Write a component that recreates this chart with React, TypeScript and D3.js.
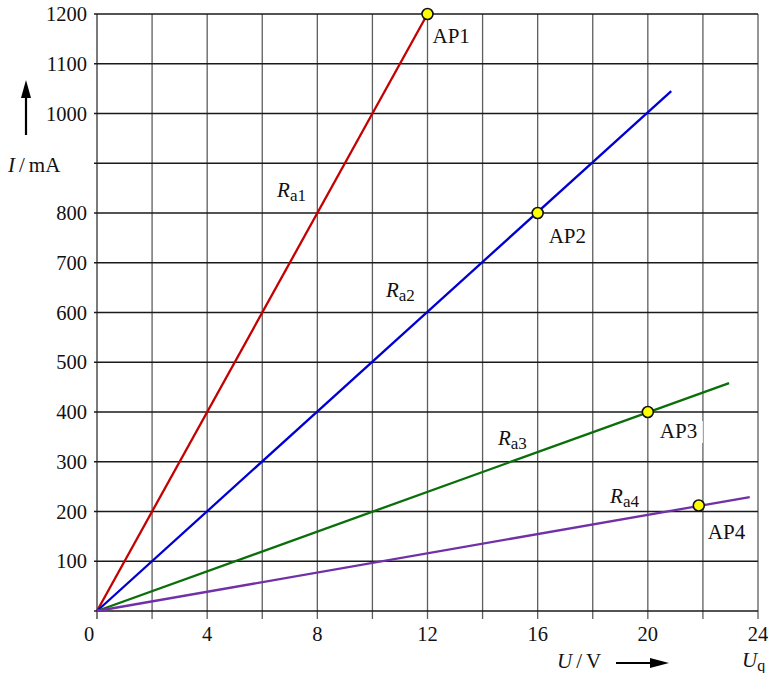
import React from "react";
import * as d3 from "d3";

const W = 768;
const H = 673;

// axis ticks
const xTickValues = [0, 4, 8, 12, 16, 20, 24];
const xGridValues = [0, 2, 4, 6, 8, 10, 12, 14, 16, 18, 20, 22, 24];
const yTickLabels = [100, 200, 300, 400, 500, 600, 700, 800, 1000, 1100, 1200];
const yGridValues = [0, 100, 200, 300, 400, 500, 600, 700, 800, 900, 1000, 1100, 1200];

// load lines (start at origin)
const lineSubs = ["a1", "a2", "a3", "a4"];
const lineEndU = [12, 20.85, 22.95, 23.7];
const lineEndI = [1200, 1045, 458, 229];
const lineColors = ["#c40000", "#0000d0", "#0a6e0a", "#7030a8"];
const lineLabelU = [6.54, 10.49, 14.56, 18.63];
const lineLabelI = [832, 631, 334, 218];

// operating points
const apNames = ["AP1", "AP2", "AP3", "AP4"];
const apU = [12, 16, 20, 21.85];
const apI = [1200, 800, 400, 212];
const apLabelDx = [5, 11, 12, 9];
const apLabelDy = [29, 30, 26, 33];

const FONT = "Liberation Serif, Times New Roman, Times, serif";

export default function App() {
  const x = d3.scaleLinear().domain([0, 24]).range([97, 758]);
  const y = d3.scaleLinear().domain([0, 1200]).range([611, 14]);
  const line = d3
    .line<[number, number]>()
    .x((d) => x(d[0]))
    .y((d) => y(d[1]));

  const fs = 20.5;
  const tStyle = { fontFamily: FONT };

  return (
    <svg
      width={W}
      height={H}
      style={{ position: "absolute", left: 0, top: 0, background: "#fff", fontFamily: FONT }}
    >
      <rect x={0} y={0} width={W} height={H} fill="#fff" />
      {/* vertical grid */}
      {xGridValues.map((v) => (
        <line
          key={"vx" + v}
          x1={x(v)}
          x2={x(v)}
          y1={y(1200)}
          y2={y(0) + 8}
          stroke={v === 0 ? "#333" : "#5e5e5e"}
          strokeWidth={1.3}
        />
      ))}
      {/* horizontal grid */}
      {yGridValues.map((v) => (
        <line
          key={"hy" + v}
          x1={x(0) - 3}
          x2={x(24)}
          y1={y(v)}
          y2={y(v)}
          stroke="#1a1a1a"
          strokeWidth={1.3}
        />
      ))}
      {/* y tick labels */}
      {yTickLabels.map((v) => (
        <text
          key={"yl" + v}
          x={87}
          y={y(v) + 7}
          fontSize={fs}
          textAnchor="end"
          fill="#111"
          style={tStyle}
        >
          {v}
        </text>
      ))}
      {/* x tick labels */}
      {xTickValues.map((v) => (
        <text
          key={"xl" + v}
          x={v === 0 ? x(0) - 8 : x(v)}
          y={641}
          fontSize={fs}
          textAnchor="middle"
          fill="#111"
          style={tStyle}
        >
          {v}
        </text>
      ))}
      {/* load lines */}
      {lineSubs.map((s, i) => (
        <path
          key={"l" + s}
          d={line([
            [0, 0],
            [lineEndU[i], lineEndI[i]],
          ]) || ""}
          stroke={lineColors[i]}
          strokeWidth={2.3}
          fill="none"
        />
      ))}
      {/* line labels */}
      {lineSubs.map((s, i) => (
        <text
          key={"ll" + s}
          x={x(lineLabelU[i])}
          y={y(lineLabelI[i])}
          fontSize={21}
          fill="#111"
          style={tStyle}
        >
          <tspan fontStyle="italic">R</tspan>
          <tspan fontSize={17} dy={4}>
            {s}
          </tspan>
        </text>
      ))}
      {/* AP labels with white background */}
      {apNames.map((n, i) => {
        const lx = x(apU[i]) + apLabelDx[i];
        const ly = y(apI[i]) + apLabelDy[i];
        return (
          <g key={"ap" + n}>
            <rect x={lx - 3} y={ly - 17} width={46} height={22} fill="#fff" />
            <text x={lx} y={ly} fontSize={21} fill="#111" style={tStyle}>
              {n}
            </text>
          </g>
        );
      })}
      {/* AP points */}
      {apNames.map((n, i) => (
        <circle
          key={"pt" + n}
          cx={x(apU[i])}
          cy={y(apI[i])}
          r={5.5}
          fill="#ffff00"
          stroke="#111"
          strokeWidth={1.6}
        />
      ))}
      {/* y axis label and arrow */}
      <line x1={26} x2={26} y1={135} y2={96} stroke="#000" strokeWidth={2.2} />
      <path d="M26,80 L21,98 L31,98 Z" fill="#000" />
      <text x={8} y={172} fontSize={21} fill="#111" style={tStyle}>
        <tspan fontStyle="italic">I</tspan>
        <tspan dx={4}>/</tspan>
        <tspan dx={4}>mA</tspan>
      </text>
      {/* x axis label and arrow */}
      <text x={557} y={668} fontSize={21} fill="#111" style={tStyle}>
        <tspan fontStyle="italic">U</tspan>
        <tspan dx={4}>/</tspan>
        <tspan dx={4}>V</tspan>
      </text>
      <line x1={616} x2={652} y1={663} y2={663} stroke="#000" strokeWidth={2.2} />
      <path d="M669,663 L650,658 L650,668 Z" fill="#000" />
      <text x={742} y={667} fontSize={21} fill="#111" style={tStyle}>
        <tspan fontStyle="italic">U</tspan>
        <tspan fontSize={16} dy={4}>
          q
        </tspan>
      </text>
    </svg>
  );
}
